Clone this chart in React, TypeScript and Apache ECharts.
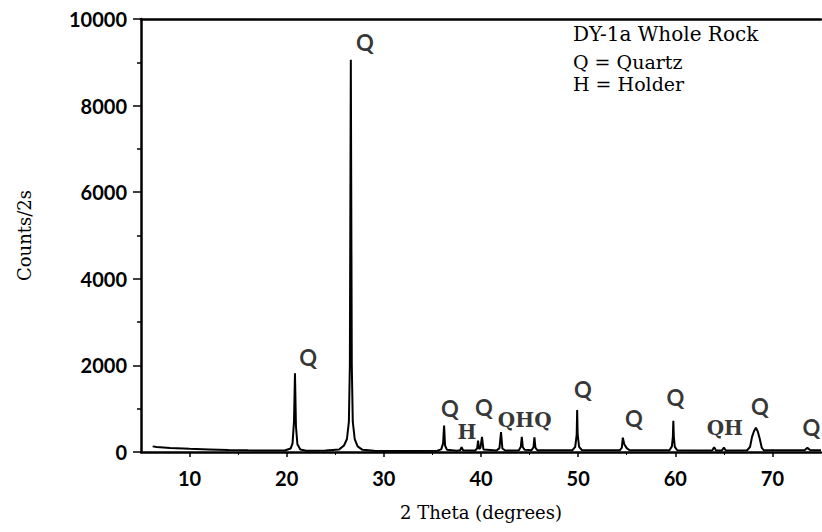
import React, { useEffect, useRef } from "react";
import * as echarts from "echarts";

// 2θ positions (degrees) of the recorded trace
const theta = [
  6.2, 6.6, 8, 10, 12, 14, 16, 18, 19.8, 20.4, 20.6, 20.75, 20.85, 20.95, 21.1, 21.4, 22, 24,
  25.4, 25.9, 26.2, 26.4, 26.5, 26.6, 26.7, 26.8, 27.0, 27.3, 27.8, 29, 32,
  35.5, 35.9, 36.1, 36.2, 36.3, 36.5, 37.5, 37.85, 38.0, 38.15,
  39.4, 39.6, 39.7, 39.8, 39.95, 40.1, 40.25, 41.6, 41.9, 42.06, 42.2, 42.5,
  43.9, 44.1, 44.2, 44.3, 44.5, 45.2, 45.4, 45.5, 45.6, 45.8,
  49.4, 49.7, 49.85, 49.9, 49.95, 50.1, 50.4, 54.3, 54.5, 54.6, 54.75, 55.0, 55.3,
  59.4, 59.65, 59.75, 59.8, 59.85, 59.95, 60.2, 63.8, 64.0, 64.2, 64.8, 65.0, 65.2,
  67.4, 67.7, 67.9, 68.1, 68.3, 68.5, 68.7, 68.9, 69.1, 73.3, 73.6, 73.9, 75,
];
// Counts/2s at each position
const counts = [
  130, 115, 95, 75, 60, 45, 38, 32, 35, 80, 200, 700, 1820, 600, 180, 60, 30, 35,
  60, 150, 300, 700, 2000, 9060, 2000, 700, 300, 130, 50, 30, 25,
  30, 60, 200, 610, 150, 50, 30, 40, 110, 40,
  35, 80, 260, 70, 100, 350, 60, 35, 90, 460, 80, 35,
  40, 120, 350, 110, 50, 40, 110, 340, 100, 40,
  40, 120, 400, 970, 400, 120, 40, 40, 100, 330, 180, 90, 40,
  40, 130, 350, 720, 350, 120, 40, 35, 110, 35, 35, 100, 35,
  40, 120, 350, 480, 560, 470, 300, 100, 40, 40, 95, 40, 40,
];

// Axis ticks
const xTicks = [10, 20, 30, 40, 50, 60, 70];
const xMinorTicks = [15, 25, 35, 45, 55, 65];

// Peak annotations
const peakLabelText = ["Q", "Q", "Q", "H", "Q", "QHQ", "Q", "Q", "Q", "QH", "Q", "Q"];
const peakLabelTheta = [22.2, 28.06, 36.8, 38.56, 40.3, 44.5, 50.5, 55.75, 60.0, 65.1, 68.7, 74.0];
const peakLabelCount = [2173, 9457, 994, 462, 1017, 740, 1434, 763, 1249, 555, 1040, 555];

const xTitle = "2 Theta (degrees)";
const yTitle = "Counts/2s";
const noteTitle = "DY-1a Whole Rock";
const noteLines = ["Q = Quartz", "H = Holder"];

export default function App() {
  const ref = useRef<HTMLDivElement>(null);
  useEffect(() => {
    if (!ref.current) return;
    const chart = echarts.init(ref.current, null, { renderer: "svg" });
    const trace = theta.map((t, i) => [t, counts[i]]);
    const labels = peakLabelText.map((t, i) => ({
      value: [peakLabelTheta[i], peakLabelCount[i]],
      name: t,
      label: {
        fontFamily: t === "Q" ? "Lato" : "DejaVu Serif",
        fontWeight: "bold",
        fontSize: t === "Q" ? 22 : 20,
        color: "#000",
      },
    }));
    const serif = "DejaVu Serif";
    const hidden = {
      axisLine: { show: false },
      axisTick: { show: false },
      axisLabel: { show: false },
      splitLine: { show: false },
    };
    chart.setOption({
      animation: false,
      backgroundColor: "#ffffff",
      grid: { left: 141, right: 1, top: 19, bottom: 80 },
      xAxis: [
        {
          type: "value",
          min: 5,
          max: 75,
          interval: 5,
          position: "bottom",
          name: xTitle,
          nameLocation: "middle",
          nameGap: 51,
          nameTextStyle: { fontFamily: serif, fontSize: 18, color: "#000" },
          axisLine: { show: true, onZero: false, lineStyle: { color: "#000", width: 2.5 } },
          axisTick: { show: true, length: 5, customValues: xTicks, lineStyle: { color: "#000", width: 1.5 } },
          axisLabel: {
            margin: 16,
            customValues: xTicks,
            fontFamily: "Lato",
            fontWeight: "bold",
            fontSize: 20,
            color: "#000",
          },
          splitLine: { show: false },
        },
        {
          type: "value",
          min: 5,
          max: 75,
          position: "top",
          axisLine: { show: true, onZero: false, lineStyle: { color: "#000", width: 2.5 } },
          axisTick: { show: false },
          axisLabel: { show: false },
          splitLine: { show: false },
        },
        {
          type: "value",
          min: 5,
          max: 75,
          position: "bottom",
          ...hidden,
          axisTick: { show: true, length: 3, customValues: xMinorTicks, lineStyle: { color: "#000", width: 1 } },
        },
      ],
      yAxis: {
        type: "value",
        min: 0,
        max: 10000,
        interval: 2000,
        name: yTitle,
        nameLocation: "middle",
        nameGap: 108,
        nameTextStyle: { fontFamily: serif, fontSize: 18, color: "#000" },
        axisLine: { show: true, lineStyle: { color: "#000", width: 2.5 } },
        axisTick: { show: true, length: 8, lineStyle: { color: "#000", width: 1.5 } },
        minorTick: { show: true, splitNumber: 2, length: 4, lineStyle: { color: "#000", width: 1.5 } },
        axisLabel: {
          margin: 14,
          fontFamily: "Lato",
          fontWeight: "bold",
          fontSize: 20,
          color: "#000",
          formatter: (v: number) => String(v),
        },
        splitLine: { show: false },
      },
      series: [
        {
          type: "line",
          data: trace,
          showSymbol: false,
          symbol: "none",
          lineStyle: { color: "#000", width: 2 },
          silent: true,
        },
        {
          type: "scatter",
          data: labels,
          symbol: "circle",
          symbolSize: 1,
          itemStyle: { color: "rgba(0,0,0,0)" },
          silent: true,
          clip: false,
          label: {
            show: true,
            position: "inside",
            color: "#000",
            formatter: (p: any) => p.name,
          },
        },
      ],
      graphic: [
        {
          type: "text",
          left: 573,
          top: 24,
          style: { text: noteTitle, font: `20px "${serif}"`, fill: "#000" },
        },
        {
          type: "text",
          left: 573,
          top: 52,
          style: { text: noteLines[0], font: `19px "${serif}"`, fill: "#000" },
        },
        {
          type: "text",
          left: 573,
          top: 74,
          style: { text: noteLines[1], font: `19px "${serif}"`, fill: "#000" },
        },
      ],
    });
    return () => chart.dispose();
  }, []);
  return <div ref={ref} style={{ width: 822, height: 532, position: "absolute", left: 0, top: 0 }} />;
}
